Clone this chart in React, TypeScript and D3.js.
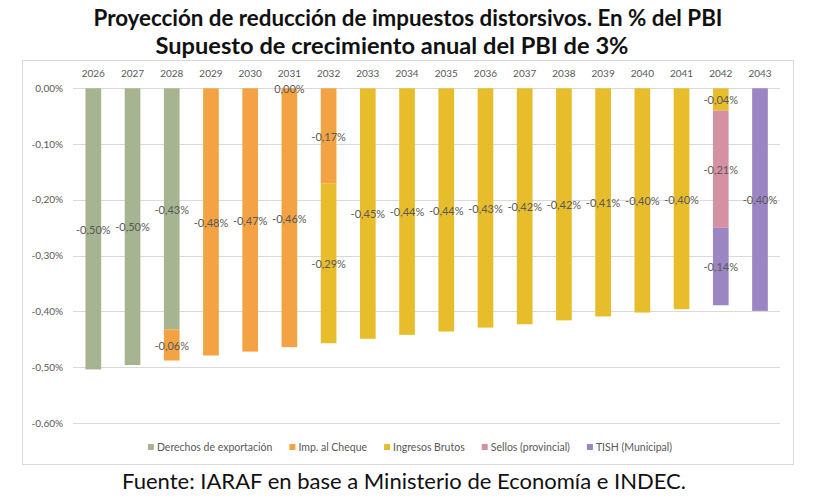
import React, { useEffect, useRef } from "react";
import * as d3 from "d3";

const years = ["2026","2027","2028","2029","2030","2031","2032","2033","2034","2035","2036","2037","2038","2039","2040","2041","2042","2043"];
const seriesNames = ["Derechos de exportación","Imp. al Cheque","Ingresos Brutos","Sellos (provincial)","TISH (Municipal)"];
const derechos = [-0.504,-0.496,-0.432,null,null,0,null,null,null,null,null,null,null,null,null,null,null,null];
const cheque = [null,null,-0.056,-0.479,-0.472,-0.464,-0.171,null,null,null,null,null,null,null,null,null,null,null];
const ingresos = [null,null,null,null,null,null,-0.286,-0.449,-0.442,-0.436,-0.429,-0.423,-0.416,-0.409,-0.402,-0.396,-0.04,null];
const sellos = [null,null,null,null,null,null,null,null,null,null,null,null,null,null,null,null,-0.21,null];
const tish = [null,null,null,null,null,null,null,null,null,null,null,null,null,null,null,null,-0.139,-0.399];
const colors = ["#A6B491","#F3A343","#E8BD2C","#D591A4","#9B86C3"];
const yTicks = [0,-0.1,-0.2,-0.3,-0.4,-0.5,-0.6];

const fmt = (v: number) => {
  const s = Math.abs(v).toFixed(2).replace(".", ",");
  return (v < -0.0001 ? "-" : "") + s + "%";
};

export default function App() {
  const ref = useRef<SVGSVGElement>(null);
  useEffect(() => {
    const svg = d3.select(ref.current);
    svg.selectAll("*").remove();
    const W = 822, H = 502;
    const font = "Lato, 'Open Sans', sans-serif";
    svg.append("rect").attr("width", W).attr("height", H).attr("fill", "#fff");

    // title
    svg.append("text").attr("x", 408).attr("y", 26).attr("text-anchor", "middle")
      .attr("font-family", font).attr("font-weight", 700).attr("font-size", 22).attr("fill", "#111")
      .attr("textLength", 629).attr("lengthAdjust", "spacingAndGlyphs")
      .text("Proyección de reducción de impuestos distorsivos. En % del PBI");
    svg.append("text").attr("x", 392).attr("y", 54).attr("text-anchor", "middle")
      .attr("font-family", font).attr("font-weight", 700).attr("font-size", 22).attr("fill", "#111")
      .attr("textLength", 473).attr("lengthAdjust", "spacingAndGlyphs")
      .text("Supuesto de crecimiento anual del PBI de 3%");

    // frame
    svg.append("rect").attr("x", 22.5).attr("y", 60.5).attr("width", 771).attr("height", 404)
      .attr("fill", "#fff").attr("stroke", "#d9d9d9").attr("stroke-width", 1);

    const x = d3.scaleBand().domain(years).range([73.7, 779.6]).paddingInner(0.6).paddingOuter(0.3);
    const y = d3.scaleLinear().domain([-0.6, 0]).range([423, 88.3]);

    const g = svg.append("g");
    g.selectAll("line.grid").data(yTicks).enter().append("line")
      .attr("x1", 73).attr("x2", 780)
      .attr("y1", d => Math.round(y(d)) + 0.5).attr("y2", d => Math.round(y(d)) + 0.5)
      .attr("stroke", "#d9d9d9").attr("stroke-width", 1);
    g.selectAll("text.ytick").data(yTicks).enter().append("text")
      .attr("x", 63).attr("y", d => y(d)).attr("dy", "0.35em").attr("text-anchor", "end")
      .attr("font-family", font).attr("font-size", 10).attr("fill", "#595959")
      .text(d => fmt(d));
    g.selectAll("text.xtick").data(years).enter().append("text")
      .attr("x", d => x(d)! + x.bandwidth() / 2).attr("y", 73).attr("dy", "0.35em").attr("text-anchor", "middle")
      .attr("font-family", font).attr("font-size", 10).attr("fill", "#595959")
      .text(d => d);

    const all = [derechos, cheque, ingresos, sellos, tish];
    const rows = years.map((yr, i) => {
      const o: any = { year: yr };
      all.forEach((arr, k) => { o[k] = arr[i] ?? 0; });
      return o;
    });
    const stack = d3.stack<any>().keys(["0","1","2","3","4"]).offset(d3.stackOffsetDiverging);
    const layers = stack(rows);

    layers.forEach((layer, k) => {
      layer.forEach((seg, i) => {
        const v = all[k][i];
        if (v === null || v === undefined) return;
        const y0 = y(seg[0]), y1 = y(seg[1]);
        const top = Math.min(y0, y1), h = Math.abs(y1 - y0);
        if (h > 0) {
          g.append("rect").attr("x", x(years[i])!).attr("y", top)
            .attr("width", x.bandwidth()).attr("height", h).attr("fill", colors[k]);
        }
      });
    });
    layers.forEach((layer, k) => {
      layer.forEach((seg, i) => {
        const v = all[k][i];
        if (v === null || v === undefined) return;
        const cy = (y(seg[0]) + y(seg[1])) / 2;
        g.append("text").attr("x", x(years[i])! + x.bandwidth() / 2).attr("y", cy + 1)
          .attr("dy", "0.35em").attr("text-anchor", "middle")
          .attr("font-family", font).attr("font-size", 11).attr("fill", "#595959")
          .text(fmt(v));
      });
    });

    // legend
    const leg = svg.append("g");
    let cx = 0;
    const gap = 17;
    seriesNames.forEach((n, k) => {
      const it = leg.append("g");
      it.append("rect").attr("x", 0).attr("y", -3).attr("width", 6).attr("height", 6).attr("fill", colors[k]);
      const t = it.append("text").attr("x", 9).attr("y", 0).attr("dy", "0.35em")
        .attr("font-family", font).attr("font-size", 10.5).attr("fill", "#595959").text(n);
      const w = (t.node() as SVGTextElement).getComputedTextLength();
      it.attr("transform", `translate(${cx},0)`);
      cx += 9 + w + gap;
    });
    const total = cx - gap;
    leg.attr("transform", `translate(${410 - total / 2},447)`);

    // footer
    svg.append("text").attr("x", 404).attr("y", 482).attr("dy", "0.35em").attr("text-anchor", "middle")
      .attr("font-family", font).attr("font-size", 21).attr("fill", "#111")
      .attr("textLength", 564).attr("lengthAdjust", "spacingAndGlyphs")
      .text("Fuente: IARAF en base a Ministerio de Economía e INDEC.");
  }, []);
  return <svg ref={ref} width={822} height={502} style={{ position: "absolute", left: 0, top: 0 }} />;
}
